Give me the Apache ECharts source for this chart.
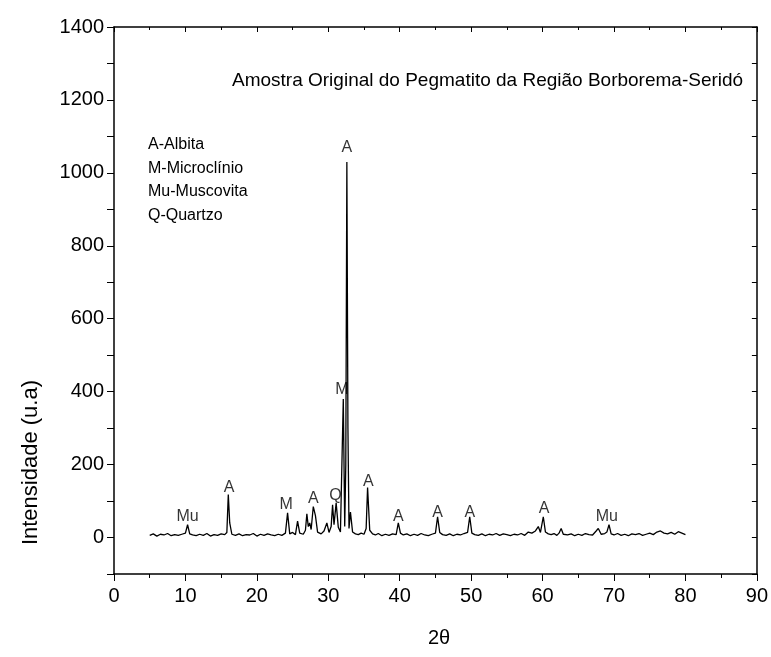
<!DOCTYPE html>
<html>
<head>
<meta charset="utf-8">
<script src="https://cdn.jsdelivr.net/npm/echarts@6/dist/echarts.min.js"></script>
<style>html,body{margin:0;background:#fff}#graph{width:771px;height:657px}</style>
</head>
<body>
<div id="graph"></div>
<script>
// 2theta positions and intensities
var twoTheta = [
  5.0,5.5,6.0,6.5,7.0,7.5,8.0,8.5,9.0,9.5,10.0,10.3,10.6,11.0,11.5,12.0,12.5,13.0,13.5,14.0,14.5,15.0,15.5,15.8,16.0,16.2,16.5,
  17.0,17.5,18.0,18.5,19.0,19.5,20.0,20.5,21.0,21.5,22.0,22.5,23.0,23.5,24.0,24.3,24.6,25.0,25.4,25.7,26.0,26.5,26.8,27.0,27.2,27.4,
  27.6,27.9,28.2,28.5,29.0,29.4,29.8,30.1,30.4,30.6,30.8,31.1,31.4,31.7,31.9,32.1,32.3,32.45,32.6,32.75,32.9,33.1,33.4,33.8,34.2,34.6,
  35.0,35.3,35.5,35.8,36.2,36.6,37.0,37.5,38.0,38.5,39.0,39.5,39.8,40.1,40.5,41.0,41.5,42.0,42.5,43.0,43.5,44.0,44.5,45.0,45.3,45.6,
  46.0,46.5,47.0,47.5,48.0,48.5,49.0,49.5,49.8,50.1,50.5,51.0,51.5,52.0,52.5,53.0,53.5,54.0,54.5,55.0,55.5,56.0,56.5,57.0,57.5,58.0,
  58.5,59.0,59.4,59.7,60.1,60.4,60.8,61.2,61.6,62.0,62.3,62.6,62.9,63.5,64.0,64.5,65.0,65.5,66.0,66.5,67.0,67.5,67.8,68.2,68.7,69.0,
  69.3,69.6,70.0,70.5,71.0,71.5,72.0,72.5,73.0,73.5,74.0,74.5,75.0,75.5,76.0,76.5,77.0,77.5,78.0,78.5,79.0,79.5,80.0
];
var intensity = [
  6,10,4,9,7,11,5,8,6,9,12,35,10,7,5,9,6,11,4,8,6,10,8,14,118,40,9,
  6,10,5,8,7,11,4,9,6,10,7,5,9,6,12,68,10,14,8,45,12,9,20,65,30,40,
  22,85,60,15,10,18,40,14,30,90,35,95,28,15,20,380,30,200,1030,300,25,70,15,10,8,12,
  9,25,137,20,10,7,11,5,9,6,10,8,40,12,7,10,5,9,6,11,7,5,9,12,57,14,
  8,6,10,5,9,7,11,14,57,12,8,6,10,5,9,7,11,6,10,8,5,9,7,11,6,15,
  12,18,30,14,57,15,10,8,11,6,12,25,9,7,10,5,9,6,11,8,7,18,25,9,11,15,
  35,10,7,11,6,9,5,10,8,11,6,9,12,8,15,18,12,10,14,9,16,12,8
];
// phase labels and where they sit (data coords)
var labelText = ['Mu','A','M','A','Q','M','A','A','A','A','A','A','Mu'];
var labelX = [10.3,16.1,24.1,27.9,31.0,31.9,32.6,35.6,39.8,45.3,49.8,60.2,69.0];
var labelY = [58,137,90,107,115,405,1070,153,58,68,68,80,58];

var myChart = echarts.init(document.getElementById('graph'));
var font = 'Liberation Sans, Arial, sans-serif';
var line = [], labels = [];
for (var i = 0; i < twoTheta.length; i++) line.push([twoTheta[i], intensity[i]]);
for (var j = 0; j < labelText.length; j++) labels.push({ value: [labelX[j], labelY[j]], label: { formatter: labelText[j] } });

var axisLine = { show: true, onZero: false, lineStyle: { color: '#000', width: 1.5 } };
myChart.setOption({
  animation: false,
  grid: { left: 114, right: 12, top: 27, bottom: 83 },
  xAxis: [
    { type: 'value', min: 0, max: 90, interval: 10, axisLine: axisLine,
      axisTick: { length: 7, lineStyle: { color: '#000' } },
      minorTick: { show: true, splitNumber: 2, length: 4, lineStyle: { color: '#000' } },
      axisLabel: { color: '#000', fontSize: 20, fontFamily: font, margin: 12 },
      splitLine: { show: false } },
    { type: 'value', position: 'top', min: 0, max: 90, interval: 10, axisLine: axisLine,
      axisTick: { inside: true, length: 5, lineStyle: { color: '#000' } },
      minorTick: { show: true, splitNumber: 2, length: 3, lineStyle: { color: '#000' } },
      axisLabel: { show: false }, splitLine: { show: false } }
  ],
  yAxis: [
    { type: 'value', min: -100, max: 1400, interval: 100, axisLine: axisLine,
      axisTick: { length: 7, lineStyle: { color: '#000' } },
      axisLabel: { color: '#000', fontSize: 20, fontFamily: font, margin: 10,
        formatter: function (v) { return (v >= 0 && v % 200 === 0) ? v : ''; } },
      splitLine: { show: false } },
    { type: 'value', position: 'right', min: -100, max: 1400, interval: 100, axisLine: axisLine,
      axisTick: { inside: true, length: 5, lineStyle: { color: '#000' } },
      axisLabel: { show: false }, splitLine: { show: false } }
  ],
  series: [
    { type: 'line', data: line, showSymbol: false, lineStyle: { color: '#000', width: 1.3 } },
    { type: 'scatter', data: labels, symbolSize: 0,
      label: { show: true, position: 'inside', color: '#000', fontSize: 16, fontFamily: font } }
  ],
  graphic: [
    { type: 'text', left: 232, top: 71, style: { text: 'Amostra Original do Pegmatito da Região Borborema-Seridó', font: '19px ' + font, fill: '#000' } },
    { type: 'text', left: 148, top: 133, style: { text: 'A-Albita\nM-Microclínio\nMu-Muscovita\nQ-Quartzo', font: '16px ' + font, lineHeight: 23.5, fill: '#000' } },
    { type: 'text', left: 20, top: 380, rotation: Math.PI / 2, style: { text: 'Intensidade (u.a)', font: '22px ' + font, fill: '#000', align: 'center', verticalAlign: 'middle' } },
    { type: 'text', left: 428, top: 628, style: { text: '2θ', font: '20px ' + font, fill: '#000' } }
  ]
});
</script>
</body>
</html>
